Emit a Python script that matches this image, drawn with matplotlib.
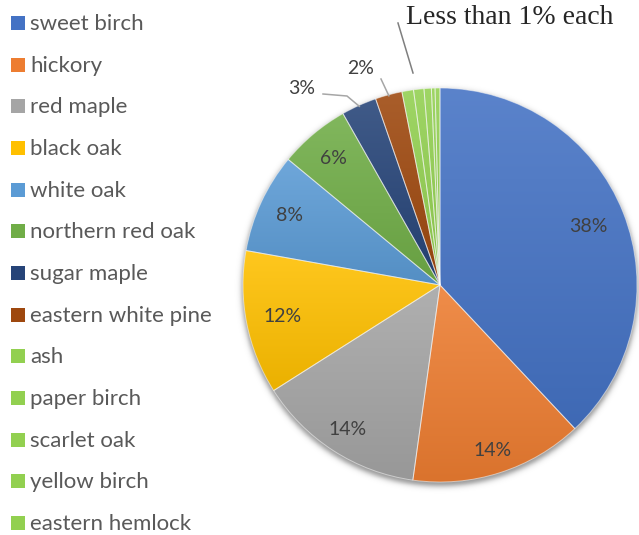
import numpy as np
import matplotlib
matplotlib.use("Agg")
import matplotlib.pyplot as plt
from matplotlib.colors import to_rgb
from matplotlib.patches import Rectangle

# Tree species composition (percent of stems)
species = ["sweet birch", "hickory", "red maple", "black oak", "white oak",
           "northern red oak", "sugar maple", "eastern white pine", "ash",
           "paper birch", "scarlet oak", "yellow birch", "eastern hemlock"]
shares = [38.0, 14.2, 13.8, 11.8, 8.2, 5.8, 2.9, 2.2, 0.95, 0.85, 0.6, 0.3, 0.4]
pct_labels = ["38%", "14%", "14%", "12%", "8%", "6%", "3%", "2%", "", "", "", "", ""]
small_note = "Less than 1% each"

colors = ["#4472C4", "#ED7D31", "#A5A5A5", "#FFC000", "#5B9BD5", "#70AD47",
          "#264478", "#9E480E", "#92D050", "#92D050", "#92D050", "#92D050", "#92D050"]

W, H = 639, 535
fig = plt.figure(figsize=(W / 100, H / 100), dpi=100)
ax = fig.add_axes([0, 0, 1, 1])

cx, cy, R = 440, 250, 197


def shade(c, f):
    r = np.array(to_rgb(c))
    if f >= 0:
        return r + (1 - r) * f
    return r * (1 + f)


wedges, _ = ax.pie(shares, startangle=90, counterclock=False, center=(cx, cy),
                   radius=R, colors=colors,
                   wedgeprops=dict(linewidth=0.7, edgecolor=(1, 1, 1, 0.5)))

# soft drop shadow beneath the pie
pad = 30
xs = np.linspace(cx - R - pad, cx + R + pad, 520)
ys = np.linspace(cy - R - pad, cy + R + pad, 520)
XX, YY = np.meshgrid(xs, ys)
d = np.hypot(XX - cx, YY - (cy - 3)) - (R + 1.5)
alpha = 0.42 * 0.5 * (1 - np.tanh(d / 3.2))
shadow = np.zeros(XX.shape + (4,))
shadow[..., 3] = alpha
ax.imshow(shadow, extent=(xs[0], xs[-1], ys[0], ys[-1]), origin="lower",
          zorder=0, aspect="auto", interpolation="bilinear")

# vertical gradient fill inside each slice
for w, c in zip(wedges, colors):
    bb = w.get_path().get_extents()
    t = np.linspace(0, 1, 256)[:, None]
    top, bot = shade(c, 0.12), shade(c, -0.08)
    img = (top[None, None, :] * (1 - t[..., None]) + bot[None, None, :] * t[..., None])
    img = np.repeat(img, 2, axis=1)
    im = ax.imshow(img, extent=(bb.x0, bb.x1, bb.y0, bb.y1), origin="upper",
                   zorder=1, aspect="auto", interpolation="bilinear")
    im.set_clip_path(w)
    w.set_facecolor("none")
    w.set_zorder(2)

# percentage labels inside the larger slices
label_dist = [0.81, 0.88, 0.87, 0.815, 0.84, 0.84]
for w, lab, rf in zip(wedges, pct_labels, label_dist):
    ang = np.deg2rad((w.theta1 + w.theta2) / 2)
    ax.text(cx + rf * R * np.cos(ang), cy + rf * R * np.sin(ang), lab,
            ha="center", va="center", fontsize=14, family="Lato",
            color="#404040", zorder=5)

# callout labels for the thin slices
leader = "#A6A6A6"
for i, (tx, ty, knee) in zip([6, 7], [(302, 446, (347, 439)), (361, 467, None)]):
    w = wedges[i]
    ang = np.deg2rad((w.theta1 + w.theta2) / 2)
    ex, ey = cx + 0.995 * R * np.cos(ang), cy + 0.995 * R * np.sin(ang)
    if knee is not None:
        ax.plot([tx + 21, knee[0], ex], [ty - 5, knee[1], ey], color=leader, lw=1.1, zorder=4)
    else:
        ax.plot([tx + 20, ex], [ty - 11, ey], color=leader, lw=1.1, zorder=4)
    ax.text(tx, ty, pct_labels[i], ha="center", va="center", fontsize=14,
            family="Lato", color="#404040", zorder=5)

ax.plot([398, 413], [512, 462], color="#7F7F7F", lw=1.1, zorder=4)
ax.text(510, 517, small_note, ha="center", va="center", fontsize=20,
        family="Liberation Serif", color="#262626", zorder=5)

# legend column
for k, (name, c) in enumerate(zip(species, colors)):
    yc = H - (23 + 41.67 * k)
    ax.add_patch(Rectangle((11, yc - 7), 14, 14, facecolor=c, edgecolor="none", zorder=3))
    ax.text(30, yc - 1, name, ha="left", va="center", fontsize=16, family="Lato",
            color="#595959", zorder=3)

ax.set_xlim(0, W)
ax.set_ylim(0, H)
ax.set_aspect("equal")
ax.axis("off")
fig.savefig("out.png", dpi=100)
